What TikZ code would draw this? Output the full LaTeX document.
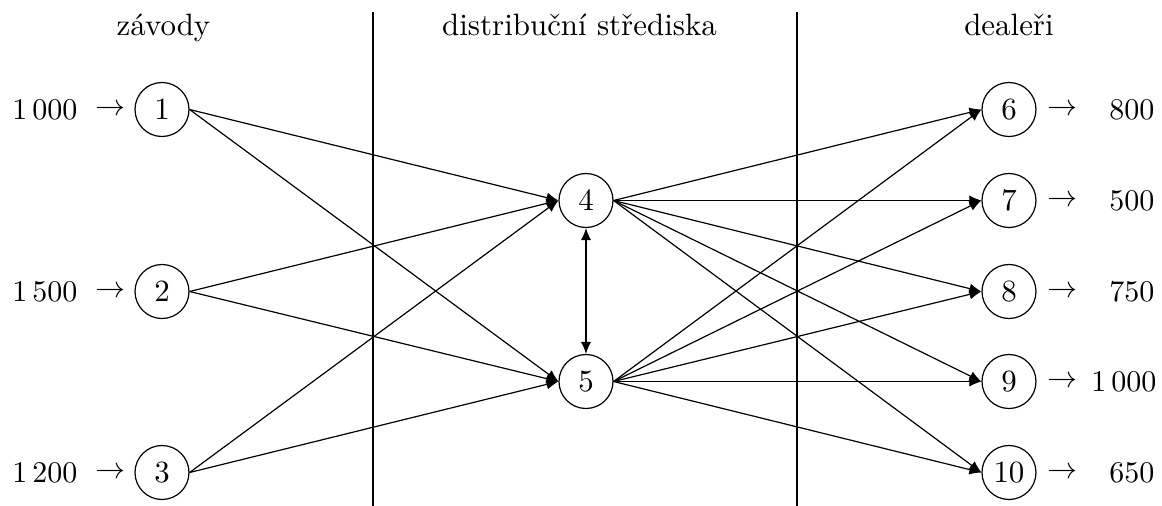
\documentclass[tikz,border=0pt]{standalone}
\usetikzlibrary{arrows.meta}
\begin{document}
\begin{tikzpicture}[x=0.3333pt,y=-0.3333pt,
  every node/.style={font=\fontsize{10.3pt}{12.4pt}\selectfont},
  vert/.style={circle,draw,line width=0.4pt,minimum size=18pt,inner sep=1pt},
  flow/.style={line width=0.4pt,-{Latex[length=4pt,width=3.4pt]}},
  dbl/.style={line width=0.4pt,{Latex[length=4pt,width=3.4pt]}-{Latex[length=4pt,width=3.4pt]}},
  sep/.style={line width=0.35pt},
  head/.style={anchor=base,inner sep=0pt},
  amt/.style={inner sep=0pt}]
\useasboundingbox (0,0) rectangle (1162,506);
% headers
\node[head] (h1) at (163.5,35) {závody};
\node[head] (h2) at (579.5,35) {distribuční střediska};
\node[head] (h3) at (1009,35) {dealeři};
% separators
\coordinate (s1t) at (373,12); \coordinate (s1b) at (373,506);
\coordinate (s2t) at (797,12); \coordinate (s2b) at (797,506);
\draw[sep] (s1t) -- (s1b);
\draw[sep] (s2t) -- (s2b);
% nodes
\node[vert] (n1) at (162,109.5) {1};
\node[vert] (n2) at (162,291.5) {2};
\node[vert] (n3) at (162,472.5) {3};
\node[vert] (n4) at (586,200.5) {4};
\node[vert] (n5) at (586,381.5) {5};
\node[vert] (n6) at (1009,109.5) {6};
\node[vert] (n7) at (1009,200.5) {7};
\node[vert] (n8) at (1009,291.5) {8};
\node[vert] (n9) at (1009,381.5) {9};
\node[vert] (n10) at (1009,472.5) {10};
% supplies
\node[amt,anchor=east] (a1) at (78,109.5) {$1\,000$};
\node[amt,anchor=east] (a2) at (78,291.5) {$1\,500$};
\node[amt,anchor=east] (a3) at (78,472.5) {$1\,200$};
\node[amt] (r1) at (110.5,109.5) {$\rightarrow$};
\node[amt] (r2) at (110.5,291.5) {$\rightarrow$};
\node[amt] (r3) at (110.5,472.5) {$\rightarrow$};
% demands
\node[amt] (q6) at (1062.5,109.5) {$\rightarrow$};
\node[amt] (q7) at (1062.5,200.5) {$\rightarrow$};
\node[amt] (q8) at (1062.5,291.5) {$\rightarrow$};
\node[amt] (q9) at (1062.5,381.5) {$\rightarrow$};
\node[amt] (q10) at (1062.5,472.5) {$\rightarrow$};
\node[amt,anchor=east] (d6) at (1155,109.5) {$800$};
\node[amt,anchor=east] (d7) at (1155,200.5) {$500$};
\node[amt,anchor=east] (d8) at (1155,291.5) {$750$};
\node[amt,anchor=east] (d9) at (1157,381.5) {$1\,000$};
\node[amt,anchor=east] (d10) at (1155,472.5) {$650$};
% edges
\foreach \s in {n1,n2,n3}{
  \draw[flow] (\s.east) -- (n4.west);
  \draw[flow] (\s.east) -- (n5.west);
}
\draw[dbl] (n4.south) -- (n5.north);
\foreach \t in {n6,n7,n8,n9,n10}{
  \draw[flow] (n4.east) -- (\t.west);
  \draw[flow] (n5.east) -- (\t.west);
}
\end{tikzpicture}
\end{document}
